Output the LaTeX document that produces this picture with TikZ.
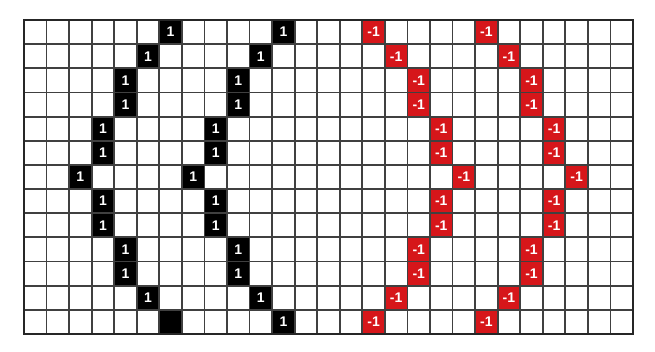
\documentclass[tikz,border=0pt]{standalone}
\usepackage{fontspec}
\setmainfont{Liberation Sans}
\definecolor{cellred}{RGB}{214,22,26}
\begin{document}
\begin{tikzpicture}[x=1pt,y=-1pt,
  cellb/.style={fill=black, draw=black, minimum width=22.56pt, minimum height=24.15pt, inner sep=0pt, text=white, font=\bfseries\fontsize{14}{14}\selectfont},
  cellr/.style={cellb, fill=cellred, draw=black!60!cellred},
  gridline/.style={line width=1.8pt, draw=black!75}]
\useasboundingbox (0,0) rectangle (655,352);
\fill[white] (0,0) rectangle (655,352);
\def\cw{22.556}
\def\ch{24.154}
\foreach \r/\d in {0/0,1/1,2/2,3/2,4/3,5/3,6/4,7/3,8/3,9/2,10/2,11/1,12/0}{
  \pgfmathsetmacro{\yy}{20+(\r+0.5)*\ch}
  \pgfmathtruncatemacro{\ca}{6-\d}
  \pgfmathtruncatemacro{\cb}{11-\d}
  \pgfmathtruncatemacro{\cc}{15+\d}
  \pgfmathtruncatemacro{\cd}{20+\d}
  \pgfmathsetmacro{\xa}{24+(\ca+0.5)*\cw}
  \pgfmathsetmacro{\xb}{24+(\cb+0.5)*\cw}
  \pgfmathsetmacro{\xc}{24+(\cc+0.5)*\cw}
  \pgfmathsetmacro{\xd}{24+(\cd+0.5)*\cw}
  \ifnum\r=12
    \node[cellb] (b-\r-\ca) at (\xa,\yy) {};
  \else
    \node[cellb] (b-\r-\ca) at (\xa,\yy) {1};
  \fi
  \node[cellb] (b-\r-\cb) at (\xb,\yy) {1};
  \node[cellr] (r-\r-\cc) at (\xc,\yy) {-1};
  \node[cellr] (r-\r-\cd) at (\xd,\yy) {-1};
}
\foreach \i in {0,...,27}{
  \pgfmathsetmacro{\xx}{24+\i*\cw}
  \draw[gridline] (\xx,20) -- (\xx,334);
}
\foreach \j in {0,...,13}{
  \pgfmathsetmacro{\yy}{20+\j*\ch}
  \draw[gridline] (24,\yy) -- (633,\yy);
}
\draw[line width=2.2pt, black!85] (24,20) rectangle (633,334);
\end{tikzpicture}
\end{document}
